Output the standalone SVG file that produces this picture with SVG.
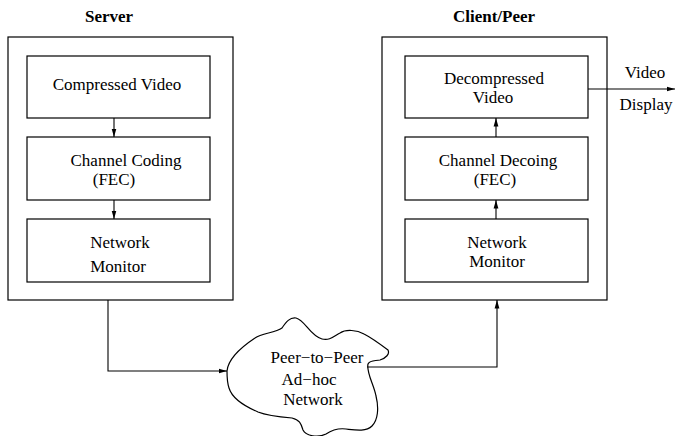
<svg xmlns="http://www.w3.org/2000/svg" width="675" height="436" viewBox="0 0 675 436">
<style>
.box{fill:#fff;stroke:#000;stroke-width:1.2}
text{font-family:'Liberation Serif','DejaVu Serif',serif;font-size:17px;fill:#000;text-anchor:middle}
.b{font-weight:bold}
.c{fill:none;stroke:#000;stroke-width:1.1}
</style>
<defs>
<marker id="ah" markerWidth="9" markerHeight="6" refX="8.5" refY="3" orient="auto" markerUnits="userSpaceOnUse">
<path d="M0,0.6 L8.5,3 L0,5.4 Z" fill="#000"/>
</marker>
</defs>
<rect width="675" height="436" fill="#fff"/>
<g id="server">
<text class="b" x="109" y="22">Server</text>
<rect class="box" x="8" y="37" width="225" height="263"/>
</g>
<g id="compressed-video">
<rect class="box" x="27" y="56" width="183" height="62"/>
<text x="117" y="90">Compressed Video</text>
</g>
<g id="channel-coding">
<rect class="box" x="27" y="137" width="183" height="63"/>
<text x="126" y="166">Channel Coding</text>
<text x="114" y="185">(FEC)</text>
</g>
<g id="server-monitor">
<rect class="box" x="27" y="219" width="183" height="63"/>
<text x="120" y="248">Network</text>
<text x="118" y="272">Monitor</text>
</g>
<g id="client">
<text class="b" x="494" y="22">Client/Peer</text>
<rect class="box" x="382" y="37" width="225" height="263"/>
</g>
<g id="decompressed-video">
<rect class="box" x="405" y="56" width="183" height="62"/>
<text x="494" y="84">Decompressed</text>
<text x="493" y="103">Video</text>
</g>
<g id="channel-decoding">
<rect class="box" x="405" y="137" width="183" height="63"/>
<text x="498" y="166">Channel Decoing</text>
<text x="495" y="185">(FEC)</text>
</g>
<g id="client-monitor">
<rect class="box" x="405" y="219" width="183" height="63"/>
<text x="497" y="248">Network</text>
<text x="497" y="267">Monitor</text>
</g>
<g id="network">
<path class="box" d="M227,371 C228,360 240,348 255,338 C262,333 275,333 282,328 C286,322 290,317 296,318 C305,320 310,336 322,339 C330,341 334,336 340,333 C346,329 357,330 364,334 C372,338 380,344 388,350 C390,354 386,358 380,360 C374,361 370,360 368,364 C366,372 374,385 376,396 C379,408 378,420 372,426 C366,432 355,430 346,429 C338,428 332,430 326,434 C318,438 306,436 303,430 C301,424 300,420 292,418 C280,417 268,416 258,412 C244,406 232,398 229,388 C227,382 227,376 227,371 Z"/>
<text x="317" y="363">Peer−to−Peer</text>
<text x="309" y="385">Ad−hoc</text>
<text x="313" y="405">Network</text>
</g>
<g id="video-display">
<text x="645" y="78">Video</text>
<text x="646" y="110">Display</text>
</g>
<g id="connectors">
<path class="c" d="M114,118 V137" marker-end="url(#ah)"/>
<path class="c" d="M114,200 V219" marker-end="url(#ah)"/>
<path class="c" d="M496,219 V200" marker-end="url(#ah)"/>
<path class="c" d="M496,137 V118" marker-end="url(#ah)"/>
<path class="c" d="M588,89 H675" marker-end="url(#ah)"/>
<path class="c" d="M108,300 V371 H227" marker-end="url(#ah)"/>
<path class="c" d="M367,367 H497 V300" marker-end="url(#ah)"/>
</g>
</svg>
